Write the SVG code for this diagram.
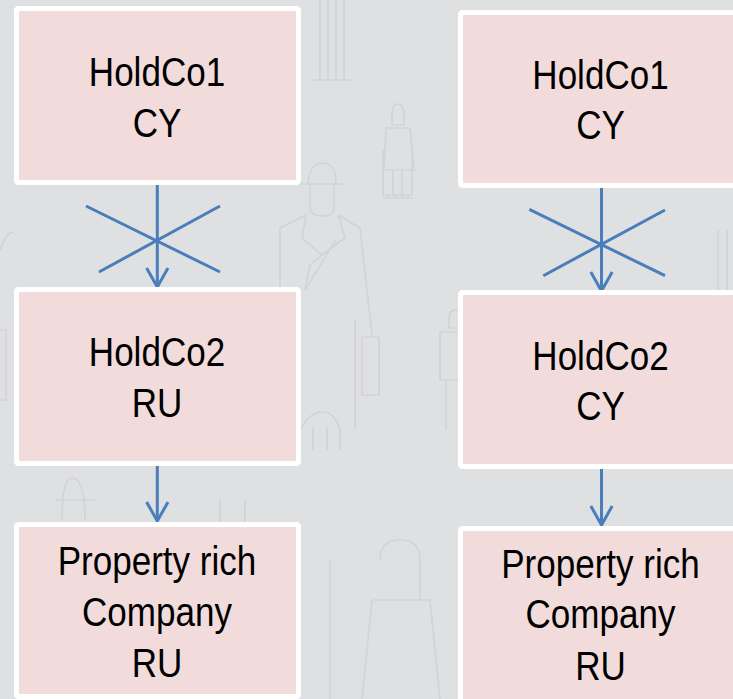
<svg xmlns="http://www.w3.org/2000/svg" width="733" height="699" viewBox="0 0 733 699">
  <defs>
    <style>
      .bg { fill: #dfe0e2; }
      .fig { fill: none; stroke: #d2d3d5; stroke-width: 1.6; stroke-linejoin: round; }
      .box { fill: #f2dcdb; stroke: #ffffff; stroke-width: 5; }
      .lbl { font-family: "Liberation Sans", Arial, sans-serif; font-size: 41px; fill: #000000; text-anchor: middle; }
      .edge { fill: none; stroke: #4a7ebb; stroke-width: 3; }
      .cross { fill: none; stroke: #4a7ebb; stroke-width: 3; }
    </style>
    <marker id="chevron" viewBox="-22 -13 24 26" refX="0" refY="0" markerWidth="24" markerHeight="26" markerUnits="userSpaceOnUse" orient="auto">
      <path d="M-19,-10.7 L0,0 L-19,10.7" fill="none" stroke="#4a7ebb" stroke-width="3"/>
    </marker>
  </defs>

  <rect class="bg" x="0" y="0" width="733" height="699"/>

  <!-- faint backdrop figures -->
  <g id="backdrop">
    <!-- tall man with bowler hat and briefcase -->
    <path class="fig" d="M308,183 Q310,163 322,163 Q336,163 336,183 M300,184 L344,184 M310,184 L310,208 Q310,216 322,216 Q334,216 334,208 L334,184"/>
    <path class="fig" d="M306,215 L280,228 L280,290 M338,215 L360,228 L372,335 M306,215 L302,238 L322,255 L310,265 L305,290 M338,215 L345,238 L322,255 M305,290 L336,240 M285,290 L285,437 M355,320 L355,430"/>
    <rect class="fig" x="362" y="337" width="17" height="58"/>
    <path class="fig" d="M300,430 Q310,412 322,412 Q335,412 340,430 L340,450 M300,430 L300,450 M313,427 L313,450 M327,427 L327,450"/>
    <!-- small figure top centre -->
    <path class="fig" d="M383,150 L383,195 L412,195 L412,150 M388,195 L388,198 M395,195 L395,198 M402,195 L402,198 M408,195 L408,198 M383,198 L412,198"/>
    <path class="fig" d="M320,0 L320,80 M328,0 L328,80 M336,0 L336,80 M344,0 L344,80 M312,80 L352,80"/>
    <!-- small figure right of centre -->
    <path class="fig" d="M392,115 Q392,104 398,104 Q404,104 404,115 L404,125 L392,125 Z M386,128 L410,128 L414,170 L384,170 Z M393,170 L393,195 M402,170 L402,195"/>
    <!-- small figure in right gap -->
    <path class="fig" d="M449,320 Q449,310 455,310 Q461,310 461,320 L461,328 L449,328 Z M440,332 L468,332 L470,380 L440,380 Z M446,380 L446,430 M462,380 L462,430"/>
    <!-- figures near lower left -->
    <path class="fig" d="M62,520 Q62,478 72,478 Q85,478 85,520 M55,500 L95,500"/>
    <path class="fig" d="M220,500 L220,545 L245,545 L245,500"/>
    <!-- left edge details -->
    <path class="fig" d="M0,330 L6,330 L6,400 L0,400 M0,250 Q6,232 14,232"/>
    <path class="fig" d="M330,560 L330,699 M380,560 Q380,540 400,540 Q420,540 420,560 L420,600 M372,600 L430,600 L440,699 M362,699 L372,600"/>
    <path class="fig" d="M718,230 L718,290 M727,230 L727,290"/>
  </g>

  <!-- connectors -->
  <g id="connectors">
    <path class="edge" d="M157.3,185 L157.3,287" marker-end="url(#chevron)"/>
    <path class="cross" d="M86,206 L220,272 M99,272 L220,206"/>
    <path class="edge" d="M157.3,466 L157.3,521" marker-end="url(#chevron)"/>

    <path class="edge" d="M601.5,188 L601.5,291" marker-end="url(#chevron)"/>
    <path class="cross" d="M529.3,209.3 L665,275.7 M543.3,275.7 L665,210"/>
    <path class="edge" d="M601.5,469 L601.5,525" marker-end="url(#chevron)"/>
  </g>

  <!-- left structure: labels are set in a narrowed sans -->
  <g id="left-holdco1">
    <rect class="box" x="16.5" y="8.5" width="282" height="174" rx="2"/>
    <g transform="translate(157 0) scale(0.855 1)">
      <text class="lbl" x="0" y="86">HoldCo1</text>
      <text class="lbl" x="0" y="137">CY</text>
    </g>
  </g>
  <g id="left-holdco2">
    <rect class="box" x="16.5" y="289.5" width="282" height="174" rx="2"/>
    <g transform="translate(157 0) scale(0.855 1)">
      <text class="lbl" x="0" y="366">HoldCo2</text>
      <text class="lbl" x="0" y="417">RU</text>
    </g>
  </g>
  <g id="left-property">
    <rect class="box" x="16.5" y="524.5" width="282" height="172" rx="2"/>
    <g transform="translate(157 0) scale(0.855 1)">
      <text class="lbl" x="0" y="575">Property rich</text>
      <text class="lbl" x="0" y="626.5">Company</text>
      <text class="lbl" x="0" y="677">RU</text>
    </g>
  </g>

  <!-- right structure -->
  <g id="right-holdco1">
    <rect class="box" x="460.5" y="12.5" width="300" height="173" rx="2"/>
    <g transform="translate(600.5 0) scale(0.855 1)">
      <text class="lbl" x="0" y="89.3">HoldCo1</text>
      <text class="lbl" x="0" y="139.3">CY</text>
    </g>
  </g>
  <g id="right-holdco2">
    <rect class="box" x="460.5" y="292.5" width="300" height="174" rx="2"/>
    <g transform="translate(600.5 0) scale(0.855 1)">
      <text class="lbl" x="0" y="370">HoldCo2</text>
      <text class="lbl" x="0" y="420">CY</text>
    </g>
  </g>
  <g id="right-property">
    <rect class="box" x="460.5" y="528.5" width="300" height="200" rx="2"/>
    <g transform="translate(600.5 0) scale(0.855 1)">
      <text class="lbl" x="0" y="578.3">Property rich</text>
      <text class="lbl" x="0" y="628.3">Company</text>
      <text class="lbl" x="0" y="680">RU</text>
    </g>
  </g>
</svg>
